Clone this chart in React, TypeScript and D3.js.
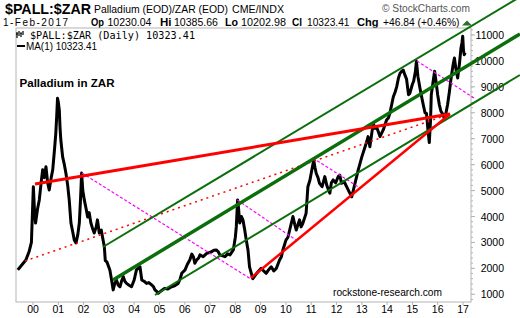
import React from "react";
import * as d3 from "d3";

// ---------- DATA ----------
const priceDates: string[] = [
  "1999-05-27","1999-07-20","1999-09-20","1999-11-06","1999-12-09","2000-01-06","2000-01-23","2000-02-07","2000-03-07","2000-04-01",
  "2000-04-27","2000-05-19","2000-06-14","2000-07-06","2000-07-31","2000-08-22","2000-09-20","2000-10-12","2000-11-07","2000-11-25",
  "2000-12-09","2000-12-20","2001-01-01","2001-01-15","2001-01-26","2001-02-06","2001-03-04","2001-03-29","2001-04-20","2001-05-16",
  "2001-06-07","2001-07-02","2001-07-28","2001-08-19","2001-09-13","2001-10-09","2001-10-31","2001-11-18","2001-12-03","2001-12-20",
  "2002-01-11","2002-02-06","2002-02-28","2002-03-22","2002-04-16","2002-05-09","2002-06-03","2002-07-02","2002-07-20","2002-08-15",
  "2002-09-13","2002-10-01","2002-10-27","2002-11-10","2002-12-03","2003-01-15","2003-02-06","2003-03-04","2003-03-25","2003-04-20",
  "2003-05-16","2003-06-10","2003-07-02","2003-07-28","2003-08-19","2003-09-13","2003-10-19","2003-11-24","2004-01-01","2004-02-03",
  "2004-02-28","2004-03-25","2004-04-20","2004-05-26","2004-06-28","2004-07-31","2004-09-09","2004-10-05","2004-10-27","2004-11-25",
  "2004-12-13","2005-01-19","2005-03-14","2005-04-27","2005-06-25","2005-08-08","2005-09-28","2005-10-27","2005-11-18","2006-01-05",
  "2006-02-06","2006-03-14","2006-04-12","2006-05-05","2006-05-26","2006-06-21","2006-07-20","2006-08-08","2006-09-24","2006-11-14",
  "2006-12-13","2007-01-23","2007-02-25","2007-04-01","2007-04-27","2007-05-23","2007-07-02","2007-08-04","2007-09-13","2007-10-16",
  "2007-12-03","2008-01-01","2008-01-15","2008-02-03","2008-02-17","2008-03-04","2008-03-29","2008-04-20","2008-05-16","2008-06-07",
  "2008-07-02","2008-07-24","2008-08-19","2008-09-08","2008-10-19","2008-11-24","2009-01-08","2009-02-14","2009-03-22","2009-04-27",
  "2009-06-03","2009-07-09","2009-08-15","2009-10-01","2009-10-27","2009-11-18","2010-01-01","2010-01-30","2010-02-24","2010-04-12",
  "2010-05-08","2010-05-30","2010-06-25","2010-07-16","2010-08-08","2010-09-02","2010-10-19","2010-11-14","2010-12-13","2011-01-01",
  "2011-02-06","2011-02-24","2011-03-14","2011-04-09","2011-05-01","2011-06-07","2011-07-16","2011-08-14","2011-09-27","2011-10-19",
  "2011-11-14","2011-12-20","2012-01-26","2012-02-17","2012-03-14","2012-04-20","2012-05-26","2012-07-02","2012-08-08","2012-08-30",
  "2012-09-24","2012-10-19","2012-11-10","2013-01-01","2013-02-17","2013-03-14","2013-04-01","2013-04-27","2013-05-19","2013-06-14",
  "2013-07-09","2013-07-31","2013-08-30","2013-09-20","2013-11-06","2013-12-24","2014-01-19","2014-02-10","2014-03-07","2014-04-01",
  "2014-04-27","2014-05-19","2014-06-14","2014-07-06","2014-07-31","2014-08-22","2014-09-13","2014-10-09","2014-11-06","2014-11-25",
  "2015-01-01","2015-01-19","2015-02-14","2015-02-28","2015-03-22","2015-04-20","2015-05-16","2015-06-07","2015-07-02","2015-07-24",
  "2015-08-15","2015-09-02","2015-09-20","2015-10-01","2015-10-27","2015-11-18","2015-12-09","2016-01-01","2016-01-26","2016-02-17",
  "2016-03-14","2016-04-04","2016-05-01","2016-05-23","2016-06-18","2016-07-13","2016-08-08","2016-08-30","2016-09-20","2016-10-16",
  "2016-11-11","2016-12-03","2016-12-17","2016-12-28","2017-01-08","2017-01-19","2017-02-01"
];
const priceValues: number[] = [
  1940,2120,2320,2650,3000,5150,4200,3750,4300,4640,
  5300,5800,5500,5920,5300,5020,5500,5800,6600,7200,
  7900,8560,8400,8100,7400,6950,6300,6000,5680,5200,
  4640,3750,3400,3094,2980,3300,3750,4700,5680,5000,
  4640,4300,3980,4150,3750,3550,3365,3600,3870,3365,
  3480,3210,2830,2300,2250,1940,1600,1170,1400,1550,
  1350,1290,1500,1680,1500,1420,1350,1290,1550,1940,
  2000,2060,1550,1500,1420,1450,1360,1300,1170,1100,
  1040,1120,1230,1200,1290,1330,1420,1600,1810,1940,
  2150,2320,2550,2450,2200,2320,2400,2520,2450,2580,
  2600,2640,2700,2710,2650,2520,2480,2450,2560,2520,
  2710,3200,3600,4640,4300,3750,4000,3870,3480,3090,
  2710,2060,1810,1600,1750,1870,2000,1900,1810,1950,
  2060,1900,2000,2320,2450,2710,3090,3200,3480,4000,
  3700,3480,3700,3870,3600,3740,4120,5150,5400,5670,
  6180,5900,5670,5500,5280,5150,5540,5200,4900,5300,
  5410,5300,5540,5600,5280,5350,5150,4950,4760,5000,
  5280,5550,5800,6300,6690,6900,7080,6690,7100,7600,
  7400,7460,7250,7080,7340,7720,7800,7980,8300,8620,
  8800,9000,9340,9520,9600,9650,9470,9300,8700,8750,
  9100,9215,9600,9990,9400,8960,8600,8310,8000,7980,
  7300,6850,7700,8700,9200,9600,9200,8700,8300,8060,
  7950,7800,8000,8310,8800,9340,9800,10110,9700,9340,
  9900,10500,10700,10950,10400,10240,10323
];

const yTicks: number[] = [1000,2000,3000,4000,5000,6000,7000,8000,9000,10000,11000];
const xTickYears: number[] = [2000,2001,2002,2003,2004,2005,2006,2007,2008,2009,2010,2011,2012,2013,2014,2015,2016,2017];
const xTickLabels: string[] = ["00","01","02","03","04","05","06","07","08","09","10","11","12","13","14","15","16","17"];

// Trend lines (start / end as date + value)
const greenThinUpper = [["2002-10-07", 2824], ["2019-04-03", 12467]] as const;
const greenThick = [["2003-03-01", 1552], ["2019-04-03", 11040]] as const;
const greenThinLower = [["2004-10-28", 973], ["2019-04-03", 9458]] as const;
const redUpper = [["2000-01-30", 5254], ["2016-06-27", 7954]] as const;
const redRising = [["2008-08-13", 1629], ["2016-06-27", 7954]] as const;
const redDotted = [["1999-09-07", 2284], ["2016-06-27", 7954]] as const;
const magenta1 = [["2001-12-08", 5679], ["2008-08-13", 1590]] as const;
const magenta2 = [["2008-01-29", 4637], ["2010-05-26", 3094]] as const;
const magenta3 = [["2011-01-26", 6257], ["2012-12-05", 5100]] as const;
const magenta4 = [["2015-03-08", 10000], ["2017-06-08", 8571]] as const;

// ---------- LAYOUT ----------
const W = 520, H = 318;
const plotL = 16, plotR = 471, plotT = 28, plotB = 302;

export default function App() {
  const parse = d3.timeParse("%Y-%m-%d");
  const x = d3.scaleTime()
    .domain([new Date(2000, 0, 1), new Date(2017, 0, 1)])
    .range([33, 463]);
  const y = d3.scaleLinear().domain([1000, 11000]).range([294.3, 35]);

  const pts = priceDates.map((d, i) => [parse(d) as Date, priceValues[i]] as [Date, number]);
  const line = d3.line<[Date, number]>().x(d => x(d[0])).y(d => y(d[1]));
  const pricePath = line(pts) || "";

  const seg = (s: readonly (readonly [string, number])[]) =>
    line(s.map(p => [parse(p[0]) as Date, p[1]] as [Date, number])) || "";

  const minorTicks: number[] = d3.range(800, 11300, 200).filter(v => y(v) > plotT && y(v) < plotB);

  const green = "#0b6e0b";
  const font = "Arial, 'Liberation Sans', sans-serif";

  return (
    <svg width={W} height={H} style={{ position: "absolute", left: 0, top: 0, background: "#fff" }}
      fontFamily={font}>
      <rect x={0} y={0} width={W} height={H} fill="#fff" />
      {/* header */}
      <text x={5} y={13.5} fontSize={14} fontWeight="bold" textLength={86} lengthAdjust="spacingAndGlyphs">$PALL:$ZAR</text>
      <text x={94} y={13} fontSize={10.5} textLength={134} lengthAdjust="spacingAndGlyphs">Palladium (EOD)/ZAR (EOD)</text>
      <text x={232} y={13} fontSize={10} textLength={52} lengthAdjust="spacingAndGlyphs">CME/INDX</text>
      <text x={382} y={12} fontSize={11} fill="#555" textLength={88} lengthAdjust="spacingAndGlyphs">© StockCharts.com</text>

      <text x={3} y={25.5} fontSize={10} textLength={65} lengthAdjust="spacing">1-Feb-2017</text>
      <text x={91} y={25.5} fontSize={11} fontWeight="bold" textLength={13} lengthAdjust="spacingAndGlyphs">Op</text>
      <text x={107.5} y={25.5} fontSize={10} textLength={44} lengthAdjust="spacingAndGlyphs">10230.04</text>
      <text x={160} y={25.5} fontSize={11} fontWeight="bold" textLength={11.5} lengthAdjust="spacingAndGlyphs">Hi</text>
      <text x={174} y={25.5} fontSize={10} textLength={44} lengthAdjust="spacingAndGlyphs">10385.66</text>
      <text x={225} y={25.5} fontSize={11} fontWeight="bold" textLength={13} lengthAdjust="spacingAndGlyphs">Lo</text>
      <text x={241} y={25.5} fontSize={10} textLength={45} lengthAdjust="spacingAndGlyphs">10202.98</text>
      <text x={292} y={25.5} fontSize={11} fontWeight="bold" textLength={10} lengthAdjust="spacingAndGlyphs">Cl</text>
      <text x={307} y={25.5} fontSize={10} textLength={42.5} lengthAdjust="spacingAndGlyphs">10323.41</text>
      <text x={357} y={25.5} fontSize={11} fontWeight="bold" textLength={21.5} lengthAdjust="spacingAndGlyphs">Chg</text>
      <text x={383} y={25.5} fontSize={10} textLength={76.5} lengthAdjust="spacingAndGlyphs">+46.84 (+0.46%)</text>
      <path d="M462,25.5 L467,20.5 L472,25.5 Z" fill="#2e6b2e" />

      {/* plot frame */}
      <rect x={plotL} y={plotT} width={plotR - plotL} height={plotB - plotT} fill="none" stroke="#b4b4b4" strokeWidth={1} />

      {/* y axis ticks and labels */}
      {minorTicks.map(v => (
        <line key={"m" + v} x1={plotR} x2={plotR + 2} y1={y(v)} y2={y(v)} stroke="#b4b4b4" />
      ))}
      {yTicks.map(v => (
        <g key={"y" + v}>
          <line x1={plotR} x2={plotR + 4} y1={y(v)} y2={y(v)} stroke="#b4b4b4" />
          <text x={504} y={y(v) + 4} fontSize={10.5} textAnchor="end">{v}</text>
        </g>
      ))}

      {/* x axis ticks and labels */}
      {xTickYears.map((yr, i) => (
        <g key={"x" + yr}>
          <line x1={x(new Date(yr, 0, 1))} x2={x(new Date(yr, 0, 1))} y1={plotB} y2={plotB + 3} stroke="#b4b4b4" />
          <text x={x(new Date(yr, 0, 1))} y={313} fontSize={10.5} textAnchor="middle">{xTickLabels[i]}</text>
        </g>
      ))}

      {/* legend */}
      <g>
        <path d="M17,38 L17,32 M19,36 L19,31 M21,37 L21,33 M23,35 L23,31 M16,34 L18,34 M20,33 L22,33" stroke="#000" strokeWidth={1.2} />
        <text x={30} y={38.5} fontSize={10} fontFamily="'DejaVu Sans Mono', monospace" textLength={165} lengthAdjust="spacingAndGlyphs">$PALL:$ZAR (Daily) 10323.41</text>
        <line x1={17} x2={25} y1={46} y2={46} stroke="#000" strokeWidth={2} />
        <text x={26} y={49.5} fontSize={10} textLength={71} lengthAdjust="spacingAndGlyphs">MA(1) 10323.41</text>
      </g>

      <text x={19.5} y={87.3} fontSize={11.5} fontWeight="bold" textLength={95} lengthAdjust="spacingAndGlyphs">Palladium in ZAR</text>
      <text x={333} y={296} fontSize={10.2} textLength={109} lengthAdjust="spacing">rockstone-research.com</text>

      {/* price */}
      <path d={pricePath} fill="none" stroke="#000" strokeWidth={3} strokeLinejoin="round" />

      {/* trend lines */}
      <path d={seg(redDotted)} fill="none" stroke="#ff0000" strokeWidth={1.5} strokeDasharray="2 4" />
      <path d={seg(magenta1)} fill="none" stroke="#ff00ff" strokeWidth={1.2} strokeDasharray="3 2" />
      <path d={seg(magenta2)} fill="none" stroke="#ff00ff" strokeWidth={1.2} strokeDasharray="3 2" />
      <path d={seg(magenta3)} fill="none" stroke="#ff00ff" strokeWidth={1.2} strokeDasharray="3 2" />
      <path d={seg(magenta4)} fill="none" stroke="#ff00ff" strokeWidth={1.2} strokeDasharray="3 2" />
      <path d={seg(greenThinUpper)} fill="none" stroke={green} strokeWidth={2} />
      <path d={seg(greenThick)} fill="none" stroke={green} strokeWidth={3.5} />
      <path d={seg(greenThinLower)} fill="none" stroke={green} strokeWidth={2} />
      <path d={seg(redUpper)} fill="none" stroke="#ff0000" strokeWidth={3} />
      <path d={seg(redRising)} fill="none" stroke="#ff0000" strokeWidth={2.5} />
    </svg>
  );
}
